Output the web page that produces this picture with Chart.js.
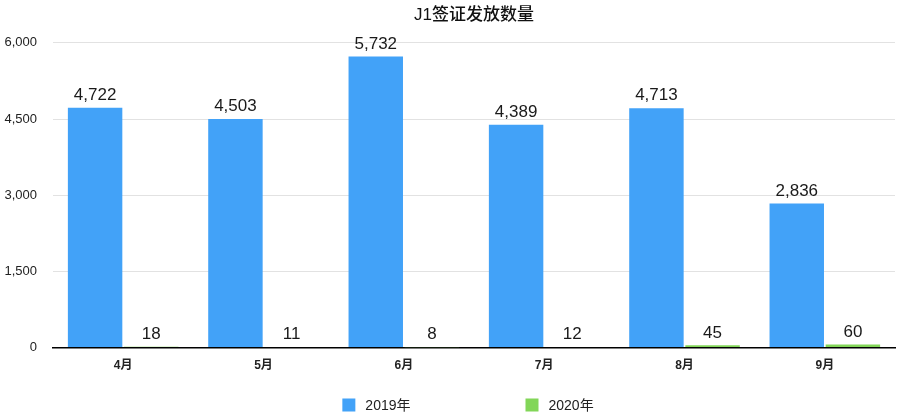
<!DOCTYPE html>
<html>
<head>
<meta charset="utf-8">
<title>J1签证发放数量</title>
<script src="https://cdn.jsdelivr.net/npm/chart.js@4/dist/chart.umd.min.js"></script>
<style>
    html, body { margin: 0; padding: 0; background: #fff; }
    #wrap { width: 900px; height: 415px; position: relative; }
</style>
</head>
<body>
<div id="wrap"><canvas id="visaChart"></canvas></div>
<script>
// Datos del gráfico
const months = ['4月', '5月', '6月', '7月', '8月', '9月'];
const visas2019 = [4722, 4503, 5732, 4389, 4713, 2836];
const visas2020 = [18, 11, 8, 12, 45, 60];
const seriesNames = ['2019年', '2020年'];
const yMin = 0;
const yMax = 6000;
const yStep = 1500;

const fontFamily = '"Liberation Sans", "Noto Sans CJK SC", sans-serif';
const fmt = v => Number(v).toLocaleString('en-US');

// Etiquetas de valor encima de cada barra
const valueLabels = {
    id: 'valueLabels',
    afterDatasetsDraw(chart) {
        const ctx = chart.ctx;
        ctx.save();
        ctx.font = '17px ' + fontFamily;
        ctx.fillStyle = '#1a1a1a';
        ctx.textAlign = 'center';
        ctx.textBaseline = 'bottom';
        chart.data.datasets.forEach((ds, i) => {
            chart.getDatasetMeta(i).data.forEach((bar, j) => {
                ctx.fillText(fmt(ds.data[j]), bar.x, bar.y - 4);
            });
        });
        ctx.restore();
    }
};

// Leyenda inferior con separación amplia
const bottomLegend = {
    id: 'bottomLegend',
    afterDraw(chart) {
        const ctx = chart.ctx;
        const area = chart.chartArea;
        const box = 13, textGap = 10, itemGap = 115;
        ctx.save();
        ctx.font = '14px ' + fontFamily;
        ctx.textBaseline = 'middle';
        const items = chart.data.datasets.map(ds => ({
            text: ds.label,
            color: ds.backgroundColor,
            w: box + textGap + ctx.measureText(ds.label).width
        }));
        const total = items.reduce((s, it) => s + it.w, 0) + itemGap * (items.length - 1);
        let x = (area.left + area.right) / 2 - total / 2 - 6;
        const y = 405;
        items.forEach(it => {
            ctx.fillStyle = it.color;
            ctx.fillRect(x, y - box / 2, box, box);
            ctx.fillStyle = '#222';
            ctx.fillText(it.text, x + box + textGap, y + 1);
            x += it.w + itemGap;
        });
        ctx.restore();
    }
};

document.addEventListener('DOMContentLoaded', function() {
    new Chart(document.getElementById('visaChart'), {
        type: 'bar',
        data: {
            labels: months,
            datasets: [
                { label: seriesNames[0], data: visas2019, backgroundColor: '#42a2f8' },
                { label: seriesNames[1], data: visas2020, backgroundColor: '#82d658' }
            ]
        },
        options: {
            responsive: true,
            maintainAspectRatio: false,
            animation: false,
            layout: { padding: { left: 2, right: 5, bottom: 39 } },
            datasets: {
                bar: { categoryPercentage: 0.8, barPercentage: 0.97 }
            },
            plugins: {
                legend: { display: false },
                tooltip: { enabled: false },
                title: {
                    display: true,
                    fullSize: false,
                    text: 'J1签证发放数量',
                    color: '#111',
                    font: { family: fontFamily, size: 17, weight: '500' },
                    padding: { top: 5, bottom: 17.5 }
                }
            },
            scales: {
                x: {
                    grid: { display: false },
                    border: { display: true, color: '#000', width: 1.5 },
                    ticks: {
                        color: '#222',
                        font: { family: fontFamily, size: 12, weight: 'bold' },
                        padding: 3
                    }
                },
                y: {
                    min: yMin,
                    max: yMax,
                    border: { display: false },
                    grid: { color: '#e2e2e2', drawTicks: false },
                    afterFit(scale) { scale.width = 51; },
                    ticks: {
                        stepSize: yStep,
                        padding: 16,
                        color: '#222',
                        font: { family: fontFamily, size: 13 },
                        callback: v => fmt(v)
                    }
                }
            }
        },
        plugins: [valueLabels, bottomLegend]
    });
});
</script>
</body>
</html>
